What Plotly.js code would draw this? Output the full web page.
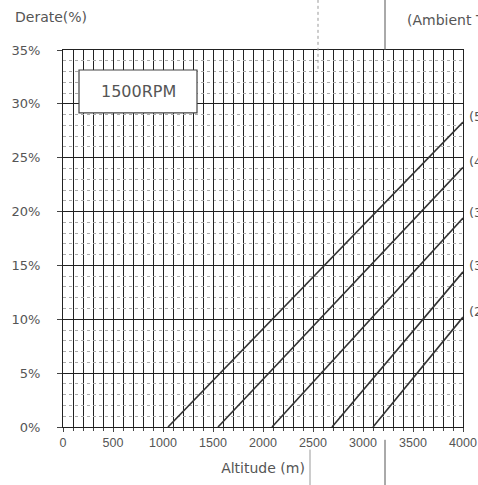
<!DOCTYPE html>
<html>
<head>
<meta charset="utf-8">
<script src="https://cdn.plot.ly/plotly-3.0.1.min.js"></script>
<style>
html,body{margin:0;padding:0;background:#fff;}
#chart{width:478px;height:485px;}
</style>
</head>
<body>
<div id="chart"></div>
<script>
// Derating curves: each starts at 0 % derate and runs to the right edge (4000 m)
const curveLabels   = ['(50°C)', '(45°C)', '(35°C)', '(30°C)', '(25°C)'];
const altitudeStart = [1050, 1550, 2090, 2690, 3100];
const altitudeEnd   = [4000, 4000, 4000, 4000, 4000];
const derateStart   = [0, 0, 0, 0, 0];
const derateEnd     = [28.3, 24.1, 19.4, 14.4, 10.2];

const xTickVals = [0, 500, 1000, 1500, 2000, 2500, 3000, 3500, 4000];
const xTickText = ['0', '500', '1000', '1500', '2000', '2500', '3000', '3500', '4000'];
const yTickVals = [0, 5, 10, 15, 20, 25, 30, 35];
const yTickText = ['0%', '5%', '10%', '15%', '20%', '25%', '30%', '35%'];

const FONT = 'DejaVu Sans, sans-serif';
const INK = '#555';

const traces = curveLabels.map((name, i) => ({
  type: 'scatter',
  mode: 'lines',
  name: name,
  x: [altitudeStart[i], altitudeEnd[i]],
  y: [derateStart[i], derateEnd[i]],
  line: {color: '#333', width: 1.6},
  hoverinfo: 'x+y+name'
}));

const labelAnns = curveLabels.map((name, i) => ({
  x: altitudeEnd[i], y: derateEnd[i], xref: 'x', yref: 'y',
  text: name, showarrow: false, xanchor: 'left', yanchor: 'middle',
  xshift: 4, yshift: 6,
  font: {family: FONT, size: 13, color: INK}
}));

const layout = {
  width: 478, height: 485,
  margin: {l: 63, r: 15, t: 50, b: 58},
  paper_bgcolor: '#fff', plot_bgcolor: '#fff',
  showlegend: false,
  font: {family: FONT, size: 13, color: INK},
  xaxis: {
    range: [0, 4000],
    tickvals: xTickVals, ticktext: xTickText,
    ticklabeloverflow: 'allow',
    showgrid: true, gridcolor: '#222', gridwidth: 1,
    minor: {dtick: 100, showgrid: true, gridcolor: '#222', gridwidth: 1, ticks: 'outside', ticklen: 3, tickcolor: '#444'},
    ticks: 'outside', ticklen: 4, tickcolor: '#444',
    showline: true, linecolor: '#222', linewidth: 1.2, mirror: true,
    zeroline: false,
    tickfont: {family: 'Liberation Sans, Arial, sans-serif', size: 12.5, color: INK},
    title: {text: 'Altitude (m)', font: {family: FONT, size: 14, color: INK}, standoff: 14}
  },
  yaxis: {
    range: [0, 35],
    tickvals: yTickVals, ticktext: yTickText,
    showgrid: true, gridcolor: '#222', gridwidth: 1.2,
    minor: {dtick: 1, showgrid: true, gridcolor: '#aaa', gridwidth: 1, griddash: 'dot'},
    ticks: 'outside', ticklen: 5, tickcolor: '#444',
    ticklabelstandoff: 14,
    showline: true, linecolor: '#222', linewidth: 1.2, mirror: true,
    zeroline: false,
    tickfont: {family: FONT, size: 13, color: INK}
  },
  shapes: [
    {type: 'rect', xref: 'paper', yref: 'paper',
     x0: 0.04, x1: 0.335, y0: 0.833, y1: 0.947,
     fillcolor: '#fff', line: {color: '#444', width: 1.2}, layer: 'above'},
    // scan fold marks
    {type: 'line', xref: 'paper', yref: 'paper', x0: 0.6375, x1: 0.6375, y0: 1.133, y1: 0.95,
     line: {color: '#999', width: 1, dash: 'dot'}},
    {type: 'line', xref: 'paper', yref: 'paper', x0: 0.805, x1: 0.805, y0: 1.133, y1: 1.0,
     line: {color: '#555', width: 1}},
    {type: 'line', xref: 'paper', yref: 'paper', x0: 0.805, x1: 0.805, y0: -0.034, y1: -0.16,
     line: {color: '#555', width: 1}},
    {type: 'line', xref: 'paper', yref: 'paper', x0: 0.6175, x1: 0.6175, y0: -0.06, y1: -0.16,
     line: {color: '#999', width: 1}}
  ],
  annotations: [
    {x: 0.1875, y: 0.89, xref: 'paper', yref: 'paper', text: '1500RPM', showarrow: false,
     xanchor: 'center', yanchor: 'middle', font: {family: FONT, size: 16, color: INK}},
    {x: -0.125, y: 1.088, xref: 'paper', yref: 'paper', text: 'Derate(%)', showarrow: false,
     xanchor: 'left', yanchor: 'middle', font: {family: FONT, size: 14, color: INK}},
    {x: 0.855, y: 1.08, xref: 'paper', yref: 'paper', text: '(Ambient Temperature)', showarrow: false,
     xanchor: 'left', yanchor: 'middle', font: {family: FONT, size: 14, color: INK}}
  ].concat(labelAnns)
};

Plotly.newPlot('chart', traces, layout, {displayModeBar: false, responsive: false});
</script>
</body>
</html>
